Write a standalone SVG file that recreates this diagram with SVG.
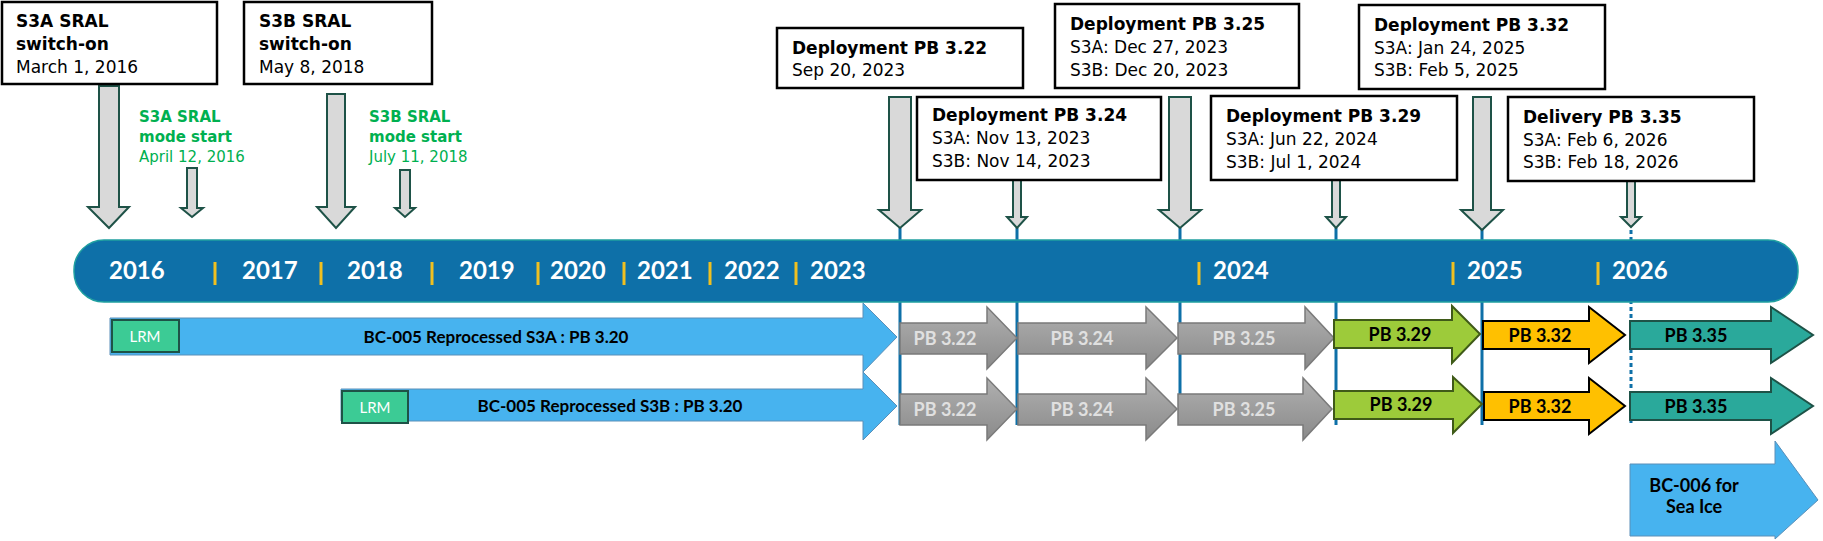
<svg xmlns="http://www.w3.org/2000/svg" width="1823" height="541" viewBox="0 0 1823 541">
<defs>
<linearGradient id="gg" x1="0" y1="0" x2="0" y2="1"><stop offset="0" stop-color="#b0b0b0"/><stop offset="1" stop-color="#8a8a8a"/></linearGradient>
</defs>
<style>
.box{fill:#fff;stroke:#000;stroke-width:2.5}
.bt{font-family:"DejaVu Sans",Verdana,sans-serif;font-size:17px;fill:#000}
.b{font-weight:bold}
.g{font-family:"DejaVu Sans",Verdana,sans-serif;font-size:15px;fill:#00b050}
.dn{fill:#d9d9d9;stroke:#1e5247;stroke-width:2}
.yr{font-family:Lato,"Open Sans",sans-serif;font-weight:bold;font-size:24px;fill:#fff}
.sep{stroke:#f0c020;stroke-width:3}
.vl{stroke:#0e70a8;stroke-width:3}
.ga{fill:url(#gg);stroke:#7a7a7a;stroke-width:1.5}
.gt{font-family:Lato,"Open Sans",sans-serif;font-weight:bold;font-size:18px;fill:#e0e0e0;text-anchor:middle}
.at{font-family:Lato,"Open Sans",sans-serif;font-weight:bold;font-size:18px;fill:#000;text-anchor:middle}
.rt{font-family:Lato,"Open Sans",sans-serif;font-weight:bold;font-size:17px;fill:#000;text-anchor:middle}
.lrm{fill:#3ccb95;stroke:#1e5247;stroke-width:2}
.lt{font-family:Lato,"Open Sans",sans-serif;font-size:15px;fill:#fff;text-anchor:middle}
</style>

<g id="connectors">
<path class="vl" d="M900 228V425M1017 228V425M1180 228V425M1336 228V425M1482 228V425"/>
<path class="vl" d="M1631 230V425" stroke-dasharray="4 3"/>
<path class="dn" d="M99 86H119V207H129L109 228L88 207H99Z"/>
<path class="dn" d="M187 168H197V208H203L192 217L181 208H187Z"/>
<path class="dn" d="M327 94H345V207H355L336 228L317 207H327Z"/>
<path class="dn" d="M400 170H410V208H415L405 217L395 208H400Z"/>
<path class="dn" d="M889 97H911V210H921L900 228L879 210H889Z"/>
<path class="dn" d="M1013 180H1021V217H1027L1017 228L1007 217H1013Z"/>
<path class="dn" d="M1169 97H1191V210H1201L1180 228L1159 210H1169Z"/>
<path class="dn" d="M1332 180H1340V217H1346L1336 228L1326 217H1332Z"/>
<path class="dn" d="M1473 97H1491V210H1503L1482 230L1461 210H1473Z"/>
<path class="dn" d="M1627 181H1635V217H1641L1631 227L1621 217H1627Z"/>
</g>

<g id="timeline">
<rect x="74" y="240" width="1724" height="62" rx="30" fill="#0e70a8" stroke="#20a0a0" stroke-width="1.5"/>
<path class="sep" d="M215 262V285M321 262V285M432 262V285M538 262V285M624 262V285M710 262V285M796 262V285M1199 262V285M1453 262V285M1598 262V285"/>
<text class="yr" y="279"><tspan x="109">2016</tspan><tspan x="242">2017</tspan><tspan x="347">2018</tspan><tspan x="459">2019</tspan><tspan x="550">2020</tspan><tspan x="637">2021</tspan><tspan x="724">2022</tspan><tspan x="810">2023</tspan><tspan x="1213">2024</tspan><tspan x="1467">2025</tspan><tspan x="1612">2026</tspan></text>
</g>

<g id="box1"><rect class="box" x="2" y="2" width="215" height="82"/><text class="bt" x="16"><tspan class="b" y="27">S3A SRAL</tspan><tspan class="b" x="16" y="50">switch-on</tspan><tspan x="16" y="73">March 1, 2016</tspan></text></g>
<g id="box2"><rect class="box" x="244" y="2" width="188" height="82"/><text class="bt" x="259"><tspan class="b" y="27">S3B SRAL</tspan><tspan class="b" x="259" y="50">switch-on</tspan><tspan x="259" y="73">May 8, 2018</tspan></text></g>
<g id="mode1"><text class="g" x="139"><tspan class="b" y="122">S3A SRAL</tspan><tspan class="b" x="139" y="142">mode start</tspan><tspan x="139" y="162">April 12, 2016</tspan></text></g>
<g id="mode2"><text class="g" x="369"><tspan class="b" y="122">S3B SRAL</tspan><tspan class="b" x="369" y="142">mode start</tspan><tspan x="369" y="162">July 11, 2018</tspan></text></g>

<g id="box3"><rect class="box" x="777" y="28" width="246" height="60"/><text class="bt" x="792"><tspan class="b" y="54">Deployment PB 3.22</tspan><tspan x="792" y="76">Sep 20, 2023</tspan></text></g>
<g id="box4"><rect class="box" x="917" y="97" width="244" height="83"/><text class="bt" x="932"><tspan class="b" y="121">Deployment PB 3.24</tspan><tspan x="932" y="144">S3A: Nov 13, 2023</tspan><tspan x="932" y="167">S3B: Nov 14, 2023</tspan></text></g>
<g id="box5"><rect class="box" x="1055" y="4" width="244" height="84"/><text class="bt" x="1070"><tspan class="b" y="30">Deployment PB 3.25</tspan><tspan x="1070" y="53">S3A: Dec 27, 2023</tspan><tspan x="1070" y="76">S3B: Dec 20, 2023</tspan></text></g>
<g id="box6"><rect class="box" x="1211" y="96" width="246" height="84"/><text class="bt" x="1226"><tspan class="b" y="122">Deployment PB 3.29</tspan><tspan x="1226" y="145">S3A: Jun 22, 2024</tspan><tspan x="1226" y="168">S3B: Jul 1, 2024</tspan></text></g>
<g id="box7"><rect class="box" x="1359" y="5" width="246" height="84"/><text class="bt" x="1374"><tspan class="b" y="31">Deployment PB 3.32</tspan><tspan x="1374" y="54">S3A: Jan 24, 2025</tspan><tspan x="1374" y="76">S3B: Feb 5, 2025</tspan></text></g>
<g id="box8"><rect class="box" x="1508" y="97" width="246" height="84"/><text class="bt" x="1523"><tspan class="b" y="123">Delivery PB 3.35</tspan><tspan x="1523" y="146">S3A: Feb 6, 2026</tspan><tspan x="1523" y="168">S3B: Feb 18, 2026</tspan></text></g>

<g id="bc005a"><path d="M110 318H863V303L897 337L863 372V355H110Z" fill="#47b3ef" stroke="#5a8fb8" stroke-width="1"/><rect class="lrm" x="112" y="320" width="67" height="32"/><text class="lt" x="145" y="342">LRM</text><text class="rt" x="496" y="343">BC-005 Reprocessed S3A : PB 3.20</text></g>
<g id="bc005b"><path d="M341 389H863V372L897 406L863 440V421H341Z" fill="#47b3ef" stroke="#5a8fb8" stroke-width="1"/><rect class="lrm" x="342" y="391" width="66" height="32"/><text class="lt" x="375" y="413">LRM</text><text class="rt" x="610" y="412">BC-005 Reprocessed S3B : PB 3.20</text></g>

<g id="pb322a"><path class="ga" d="M900 323H987V307L1017 338L987 369V354H900Z"/><text class="gt" x="945" y="345">PB 3.22</text></g>
<g id="pb324a"><path class="ga" d="M1018 323H1146V307L1177 338L1146 369V354H1018Z"/><text class="gt" x="1082" y="345">PB 3.24</text></g>
<g id="pb325a"><path class="ga" d="M1178 323H1305V307L1334 338L1305 369V354H1178Z"/><text class="gt" x="1244" y="345">PB 3.25</text></g>
<g id="pb329a"><path d="M1334 320H1452V306L1480 334L1452 363V348H1334Z" fill="#9dcb3a" stroke="#3f5a18" stroke-width="2"/><text class="at" x="1400" y="341">PB 3.29</text></g>
<g id="pb332a"><path d="M1483 321H1589V307L1625 335L1589 363V349H1483Z" fill="#ffc000" stroke="#000" stroke-width="2"/><text class="at" x="1540" y="342">PB 3.32</text></g>
<g id="pb335a"><path d="M1630 321H1771V307L1813 335L1771 363V349H1630Z" fill="#2aa99b" stroke="#1e5247" stroke-width="2"/><text class="at" x="1696" y="342">PB 3.35</text></g>

<g id="pb322b"><path class="ga" d="M900 394H987V378L1017 409L987 440V425H900Z"/><text class="gt" x="945" y="416">PB 3.22</text></g>
<g id="pb324b"><path class="ga" d="M1018 394H1146V378L1177 409L1146 440V425H1018Z"/><text class="gt" x="1082" y="416">PB 3.24</text></g>
<g id="pb325b"><path class="ga" d="M1178 394H1303V378L1332 409L1303 440V425H1178Z"/><text class="gt" x="1244" y="416">PB 3.25</text></g>
<g id="pb329b"><path d="M1334 391H1453V377L1482 404L1453 433V419H1334Z" fill="#9dcb3a" stroke="#3f5a18" stroke-width="2"/><text class="at" x="1401" y="411">PB 3.29</text></g>
<g id="pb332b"><path d="M1484 392H1589V378L1625 406L1589 434V420H1484Z" fill="#ffc000" stroke="#000" stroke-width="2"/><text class="at" x="1540" y="413">PB 3.32</text></g>
<g id="pb335b"><path d="M1630 392H1771V378L1813 406L1771 434V420H1630Z" fill="#2aa99b" stroke="#1e5247" stroke-width="2"/><text class="at" x="1696" y="413">PB 3.35</text></g>

<g id="bc006"><path d="M1630 464H1775V441L1818 500L1775 539V536H1630Z" fill="#47b3ef" stroke="#5a8fb8" stroke-width="1"/><text class="at" x="1694" y="492">BC-006 for</text><text class="at" x="1694" y="513">Sea Ice</text></g>
</svg>
